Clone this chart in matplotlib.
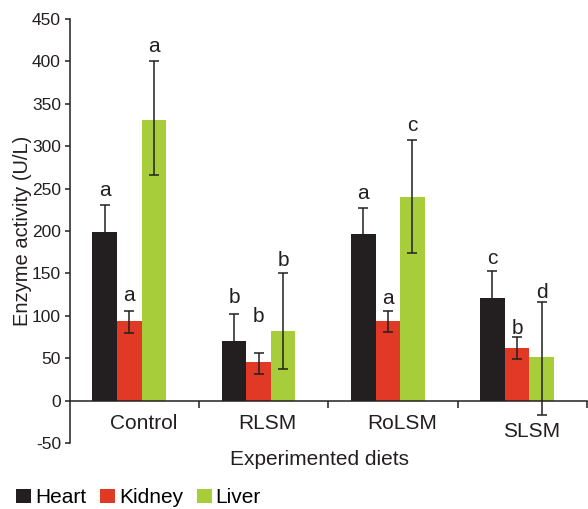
import numpy as np
import matplotlib
matplotlib.use("Agg")
import matplotlib.pyplot as plt
from matplotlib.patches import Patch

plt.rcParams['font.family'] = ['Liberation Sans', 'DejaVu Sans']

# ---- data ----
diets = ["Control", "RLSM", "RoLSM", "SLSM"]
organs = ["Heart", "Kidney", "Liver"]
heart = [199, 70, 196, 121]
kidney = [94, 45, 93.5, 62.5]
liver = [331, 82, 240, 51]
heart_err_hi = [32, 32, 31, 32]
heart_err_lo = [32, 32, 31, 32]
kidney_err_hi = [12, 11.5, 12.5, 13]
kidney_err_lo = [14, 14, 13, 13]
liver_err_hi = [69, 68, 67, 65]
liver_err_lo = [65, 45, 66, 68]
heart_letters = ["a", "b", "a", "c"]
kidney_letters = ["a", "b", "a", "b"]
liver_letters = ["a", "b", "c", "d"]
yticks = [-50, 0, 50, 100, 150, 200, 250, 300, 350, 400, 450]

# ---- style ----
colors = ["#231f20", "#e03a27", "#a8cd3a"]
ecol = "#231f20"
letter_pad = [[6.5, 7, 6.5], [8, 22, 5], [6.5, 5, 6.5], [5, 1.5, 3]]  # points
label_dx = [0.11, 0.07, 0.11, 0.11]
label_dy = [-26.5, -26.5, -26.5, -36]

fig = plt.figure(figsize=(5.88, 5.09), dpi=100)
ax = fig.add_axes([0.119, 0.1297, 0.879, 0.833])

x = np.arange(len(diets))
w = 0.19
series = [heart, kidney, liver]
hi = [heart_err_hi, kidney_err_hi, liver_err_hi]
lo = [heart_err_lo, kidney_err_lo, liver_err_lo]
letters = [heart_letters, kidney_letters, liver_letters]
for j in range(3):
    xs = x + (j - 1) * w
    ax.bar(xs, series[j], width=w, color=colors[j], zorder=2)
    ax.errorbar(xs, series[j], yerr=[lo[j], hi[j]], fmt='none', ecolor=ecol,
                elinewidth=1.1, capsize=3.3, capthick=1.1, zorder=3)
    for i in range(len(diets)):
        ax.annotate(letters[j][i], xy=(xs[i], series[j][i] + hi[j][i]),
                    xytext=(0, letter_pad[i][j]), textcoords='offset points',
                    ha='center', va='baseline', fontsize=15, color='#231f20')

ax.set_xlim(-0.459, 3.54)
ax.set_ylim(-50, 450)
ax.spines['top'].set_visible(False)
ax.spines['right'].set_visible(False)
ax.spines['bottom'].set_position(('data', 0))
for s in ['left', 'bottom']:
    ax.spines[s].set_linewidth(1.1)
    ax.spines[s].set_color('#231f20')
ax.set_yticks(yticks)
ax.set_yticklabels([str(v) for v in yticks], fontsize=12.5, color='#231f20')
ax.tick_params(axis='y', direction='out', length=3.5, width=1.1, pad=3, colors='#231f20')
ax.set_xticks(x + 0.54)
ax.set_xticklabels([])
ax.tick_params(axis='x', direction='out', length=5, width=1.1, colors='#231f20')

for i, d in enumerate(diets):
    ax.text(x[i] + label_dx[i], label_dy[i], d, ha='center', va='center',
            fontsize=15, color='#231f20')

ax.set_ylabel("Enzyme activity (U/L)", fontsize=14.5, color='#231f20', labelpad=0)
fig.text(0.544, 0.0963, "Experimented diets", ha='center', va='center',
         fontsize=15, color='#231f20')

handles = [Patch(facecolor=c) for c in colors]
fig.legend(handles, organs, loc='center left', bbox_to_anchor=(0.027, 0.022),
           frameon=False, ncol=3, fontsize=15, handlelength=0.72, handleheight=0.72,
           handletextpad=0.2, columnspacing=0.65, borderpad=0, borderaxespad=0)

fig.savefig("out.png", dpi=100)
